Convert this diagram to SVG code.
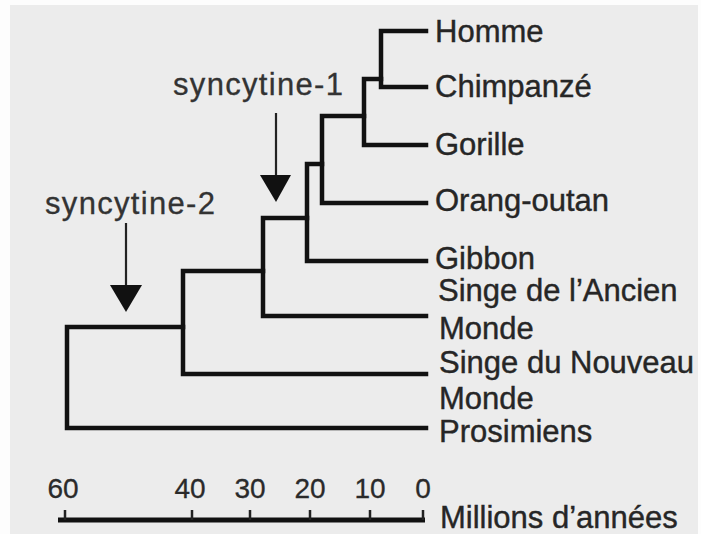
<svg xmlns="http://www.w3.org/2000/svg" width="701" height="534" viewBox="0 0 701 534">
<style>
.tree{fill:none;stroke:#111;stroke-width:4.5;stroke-linejoin:miter;stroke-linecap:square}
.lbl{font-family:"Liberation Sans",Arial,sans-serif;font-size:31px;fill:#262626;stroke:#262626;stroke-width:0.4}
.syn{font-family:"Liberation Sans",Arial,sans-serif;font-size:31px;fill:#333;stroke:#333;stroke-width:0.3}
.tick{font-family:"Liberation Sans",Arial,sans-serif;font-size:28px;fill:#2a2a2a;text-anchor:middle;stroke:#2a2a2a;stroke-width:0.3}
.arr{stroke:#222;stroke-width:2.2;fill:none}
.head{fill:#111}
.axis{stroke:#111;stroke-width:5;fill:none}
.tk{stroke:#222;stroke-width:2.5}
</style>
<rect x="0" y="0" width="701" height="534" fill="#fdfdfd"/>
<rect x="10" y="5" width="688" height="529" fill="#ececec"/>
<g id="connectors">
<path class="tree" d="M426,31 H381 V87 H426"/>
<path class="tree" d="M381,79 H364 V145 H426"/>
<path class="tree" d="M364,116 H322 V203 H426"/>
<path class="tree" d="M322,164 H307 V261 H426"/>
<path class="tree" d="M307,218 H263 V316 H426"/>
<path class="tree" d="M263,271 H183 V374 H426"/>
<path class="tree" d="M183,327 H67 V428 H426"/>
</g>
<g id="homme"><text class="lbl" x="435" y="42">Homme</text></g>
<g id="chimpanze"><text class="lbl" x="435" y="97">Chimpanzé</text></g>
<g id="gorille"><text class="lbl" x="435" y="155">Gorille</text></g>
<g id="orang-outan"><text class="lbl" x="435" y="211">Orang-outan</text></g>
<g id="gibbon"><text class="lbl" x="435" y="269">Gibbon</text></g>
<g id="singe-ancien"><text class="lbl" x="438" y="301">Singe de l’Ancien</text><text class="lbl" x="439" y="339">Monde</text></g>
<g id="singe-nouveau"><text class="lbl" x="439" y="373">Singe du Nouveau</text><text class="lbl" x="439" y="409">Monde</text></g>
<g id="prosimiens"><text class="lbl" x="439" y="442">Prosimiens</text></g>
<g id="syncytine-1">
<text class="syn" x="173" y="95" textLength="170">syncytine-1</text>
<line class="arr" x1="276" y1="113" x2="276" y2="180"/>
<polygon class="head" points="260,175 291,175 276,202"/>
</g>
<g id="syncytine-2">
<text class="syn" x="45" y="214" textLength="170">syncytine-2</text>
<line class="arr" x1="126" y1="223" x2="126" y2="290"/>
<polygon class="head" points="110,285 142,285 126,312"/>
</g>
<g id="axis">
<line class="axis" x1="58" y1="520" x2="425" y2="520"/>
<line class="tk" x1="65" y1="510" x2="65" y2="520"/>
<line class="tk" x1="192" y1="510" x2="192" y2="520"/>
<line class="tk" x1="250" y1="510" x2="250" y2="520"/>
<line class="tk" x1="310" y1="510" x2="310" y2="520"/>
<line class="tk" x1="370" y1="510" x2="370" y2="520"/>
<line class="tk" x1="423" y1="510" x2="423" y2="520"/>
<text class="tick" x="63" y="498">60</text>
<text class="tick" x="190" y="498">40</text>
<text class="tick" x="250" y="498">30</text>
<text class="tick" x="310" y="498">20</text>
<text class="tick" x="370" y="498">10</text>
<text class="tick" x="423" y="498">0</text>
<text class="lbl" x="440" y="528">Millions d’années</text>
</g>
</svg>
